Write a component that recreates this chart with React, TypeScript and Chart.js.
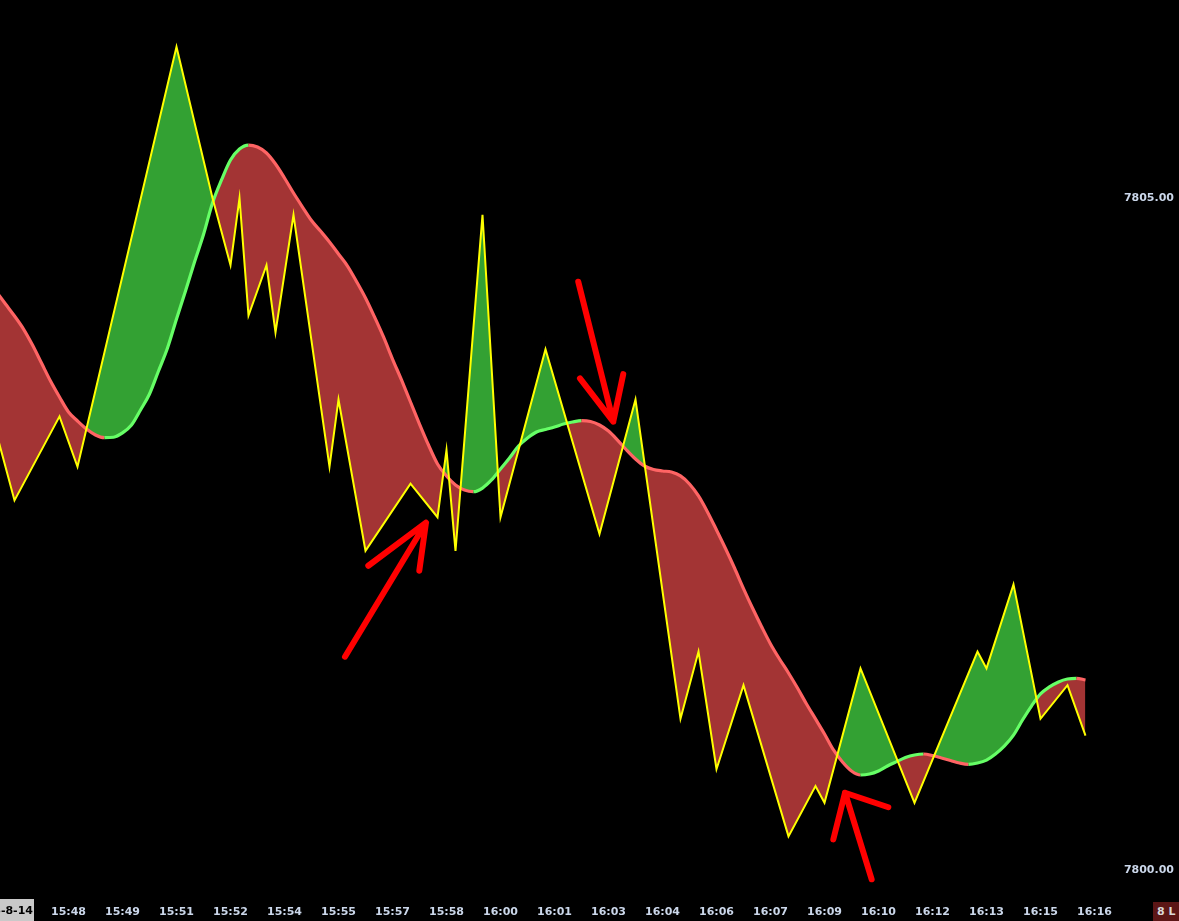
import React, { useEffect, useRef } from "react";
import { Chart, registerables } from "chart.js";

Chart.register(...registerables);

// time of bar 0 and bar length
const sessionStart = "15:46:15";
const barSeconds = 15;

// price (yellow zig-zag): vertices [bar index, price]
const priceBars = [-1, 1, 6, 8, 19, 23, 25, 26, 27, 29, 30, 32, 36, 37, 40, 45, 48, 49, 50, 53, 55, 60, 66, 70, 75, 77, 79, 82, 87, 90, 91, 95, 101, 108, 109, 112, 115, 118, 120];
const priceValues = [7803.25, 7802.75, 7803.375, 7803.0, 7806.125, 7805.0, 7804.5, 7805.0, 7804.125, 7804.5, 7804.0, 7804.875, 7803.0, 7803.5, 7802.375, 7802.875, 7802.625, 7803.125, 7802.375, 7804.875, 7802.625, 7803.875, 7802.5, 7803.5, 7801.125, 7801.625, 7800.75, 7801.375, 7800.25, 7800.625, 7800.5, 7801.5, 7800.5, 7801.625, 7801.5, 7802.125, 7801.125, 7801.375, 7801.0];

// moving average, one value per bar starting at bar -1
const maStartBar = -1;
const maValues = [
  7804.301, 7804.211, 7804.122, 7804.025, 7803.906, 7803.772, 7803.638, 7803.519, 7803.408, 7803.341,
  7803.281, 7803.237, 7803.217, 7803.220, 7803.252, 7803.311, 7803.423, 7803.542, 7803.713, 7803.884,
  7804.100, 7804.308, 7804.524, 7804.728, 7804.963, 7805.134, 7805.283, 7805.365, 7805.394, 7805.379,
  7805.335, 7805.253, 7805.149, 7805.037, 7804.933, 7804.833, 7804.754, 7804.673, 7804.583, 7804.494,
  7804.379, 7804.256, 7804.115, 7803.966, 7803.802, 7803.646, 7803.482, 7803.318, 7803.162, 7803.021,
  7802.932, 7802.865, 7802.827, 7802.815, 7802.842, 7802.902, 7802.984, 7803.065, 7803.155, 7803.214,
  7803.259, 7803.278, 7803.296, 7803.318, 7803.333, 7803.343, 7803.337, 7803.311, 7803.266, 7803.199,
  7803.125, 7803.058, 7803.006, 7802.980, 7802.969, 7802.961, 7802.932, 7802.872, 7802.783, 7802.664,
  7802.530, 7802.392, 7802.247, 7802.094, 7801.949, 7801.812, 7801.682, 7801.570, 7801.466, 7801.354,
  7801.235, 7801.124, 7801.012, 7800.893, 7800.804, 7800.737, 7800.707, 7800.714, 7800.737, 7800.774,
  7800.806, 7800.837, 7800.856, 7800.863, 7800.852, 7800.833, 7800.815, 7800.796, 7800.786, 7800.796,
  7800.818, 7800.863, 7800.923, 7801.004, 7801.116, 7801.220, 7801.310, 7801.362, 7801.399, 7801.421,
  7801.426, 7801.414,
];

// axis ticks
const timeTickBars = [7, 13, 19, 25, 31, 37, 43, 49, 55, 61, 67, 73, 79, 85, 91, 97, 103, 109, 115, 121];
const priceTicks = [7800, 7805];
const dateLabel = "2018-8-14";
const cornerLabel = "8 L";

// red annotation arrows, [bar, price]
const arrowTails = [[37.72, 7801.587], [63.64, 7804.377], [96.24, 7799.931]];
const arrowTips = [[46.72, 7802.584], [67.53, 7803.336], [93.28, 7800.575]];
const arrowWingsA = [[40.31, 7802.264], [63.83, 7803.658], [91.98, 7800.228]];
const arrowWingsB = [[45.98, 7802.227], [68.64, 7803.69], [98.09, 7800.467]];

const GREEN_FILL = "#33a133";
const RED_FILL = "#a33434";
const MA_UP = "#66ff66";
const MA_DOWN = "#ff6464";
const TICK_COLOR = "#cbd7ea";
const FONT = { family: "'DejaVu Sans', Verdana, sans-serif", size: 11, weight: "bold" as const };

function barLabel(bar: number): string {
  const [h, m, s] = sessionStart.split(":").map(Number);
  const t = h * 3600 + m * 60 + s + bar * barSeconds;
  const hh = Math.floor(t / 3600);
  const mm = Math.floor((t % 3600) / 60);
  return `${hh}:${String(mm).padStart(2, "0")}`;
}

const arrowPlugin = {
  id: "arrows",
  afterDatasetsDraw(chart: any) {
    const { ctx, scales } = chart;
    const xs = scales.x;
    const ys = scales.y;
    const P = (p: number[]) => [xs.getPixelForValue(p[0]), ys.getPixelForValue(p[1])];
    ctx.save();
    ctx.strokeStyle = "#ff0000";
    ctx.lineWidth = 6;
    ctx.lineCap = "round";
    ctx.lineJoin = "round";
    for (let i = 0; i < arrowTips.length; i++) {
      const t = P(arrowTails[i]);
      const h = P(arrowTips[i]);
      const a = P(arrowWingsA[i]);
      const b = P(arrowWingsB[i]);
      ctx.beginPath();
      ctx.moveTo(t[0], t[1]);
      ctx.lineTo(h[0], h[1]);
      ctx.moveTo(a[0], a[1]);
      ctx.lineTo(h[0], h[1]);
      ctx.lineTo(b[0], b[1]);
      ctx.stroke();
    }
    ctx.restore();
  },
};

export default function App() {
  const ref = useRef<HTMLCanvasElement | null>(null);

  useEffect(() => {
    document.body.style.margin = "0";
    document.body.style.background = "#000";
    if (!ref.current) return;
    const pricePts = priceBars.map((b, i) => ({ x: b, y: priceValues[i] }));
    const maPts = maValues.map((v, i) => ({ x: maStartBar + i, y: v }));
    const chart = new Chart(ref.current, {
      type: "line",
      data: {
        datasets: [
          {
            label: "Price",
            data: pricePts,
            borderColor: "#ffff00",
            borderWidth: 2,
            pointRadius: 0,
            tension: 0,
            order: 0,
            fill: { target: 2, above: GREEN_FILL, below: RED_FILL },
          },
          {
            label: "MA",
            data: maPts,
            borderColor: MA_DOWN,
            borderWidth: 3.2,
            pointRadius: 0,
            cubicInterpolationMode: "monotone",
            fill: false,
            order: 1,
            segment: {
              borderColor: (c: any) => (c.p1.parsed.y >= c.p0.parsed.y ? MA_UP : MA_DOWN),
            },
          },
          {
            label: "MA base",
            data: maPts,
            borderColor: "rgba(0,0,0,0)",
            borderWidth: 0,
            pointRadius: 0,
            cubicInterpolationMode: "monotone",
            fill: false,
            order: 2,
          },
        ],
      },
      options: {
        animation: false,
        responsive: false,
        devicePixelRatio: 1,
        layout: { padding: { left: 0, top: 0, right: 5, bottom: 0 } },
        plugins: {
          legend: { display: false },
          tooltip: { enabled: false },
          filler: { drawTime: "beforeDatasetsDraw" },
        },
        events: [],
        scales: {
          x: {
            type: "linear",
            min: -0.6111,
            max: 123.278,
            grid: { display: false, drawTicks: false },
            border: { display: false },
            afterBuildTicks: (s: any) => {
              s.ticks = timeTickBars.map((v) => ({ value: v }));
            },
            afterFit: (s: any) => {
              s.height = 28;
              s.paddingLeft = 0;
              s.paddingRight = 0;
            },
            ticks: {
              autoSkip: false,
              maxRotation: 0,
              minRotation: 0,
              padding: 13,
              color: TICK_COLOR,
              font: FONT,
              callback: (v: any) => barLabel(Number(v)),
            },
          },
          y: {
            type: "linear",
            position: "right",
            min: 7799.8289,
            max: 7806.4732,
            grid: { display: false, drawTicks: false },
            border: { display: false },
            afterBuildTicks: (s: any) => {
              s.ticks = priceTicks.map((v) => ({ value: v }));
            },
            afterFit: (s: any) => {
              s.width = 59;
              s.paddingTop = 0;
              s.paddingBottom = 0;
            },
            ticks: {
              padding: 0,
              crossAlign: "far",
              color: TICK_COLOR,
              font: FONT,
              callback: (v: any) => Number(v).toFixed(2),
            },
          },
        },
      },
      plugins: [arrowPlugin],
    } as any);
    return () => chart.destroy();
  }, []);

  return (
    <div
      style={{
        position: "absolute",
        left: 0,
        top: 0,
        width: 1179,
        height: 921,
        background: "#000",
        overflow: "hidden",
      }}
    >
      <canvas ref={ref} width={1179} height={921} style={{ display: "block", width: 1179, height: 921 }} />
      <div
        style={{
          position: "absolute",
          right: 1179 - 34,
          top: 899,
          height: 22,
          display: "flex",
          alignItems: "center",
          paddingRight: 1,
          background: "#c9c9c9",
          color: "#000",
          font: "bold 11px 'DejaVu Sans', Verdana, sans-serif",
          whiteSpace: "nowrap",
        }}
      >
        {dateLabel}
      </div>
      <div
        style={{
          position: "absolute",
          left: 1153,
          top: 902,
          width: 26,
          height: 19,
          display: "flex",
          alignItems: "center",
          paddingLeft: 4,
          boxSizing: "border-box",
          background: "#5c1616",
          color: "#d9d9d9",
          font: "bold 11px 'DejaVu Sans', Verdana, sans-serif",
          whiteSpace: "nowrap",
        }}
      >
        {cornerLabel}
      </div>
    </div>
  );
}
